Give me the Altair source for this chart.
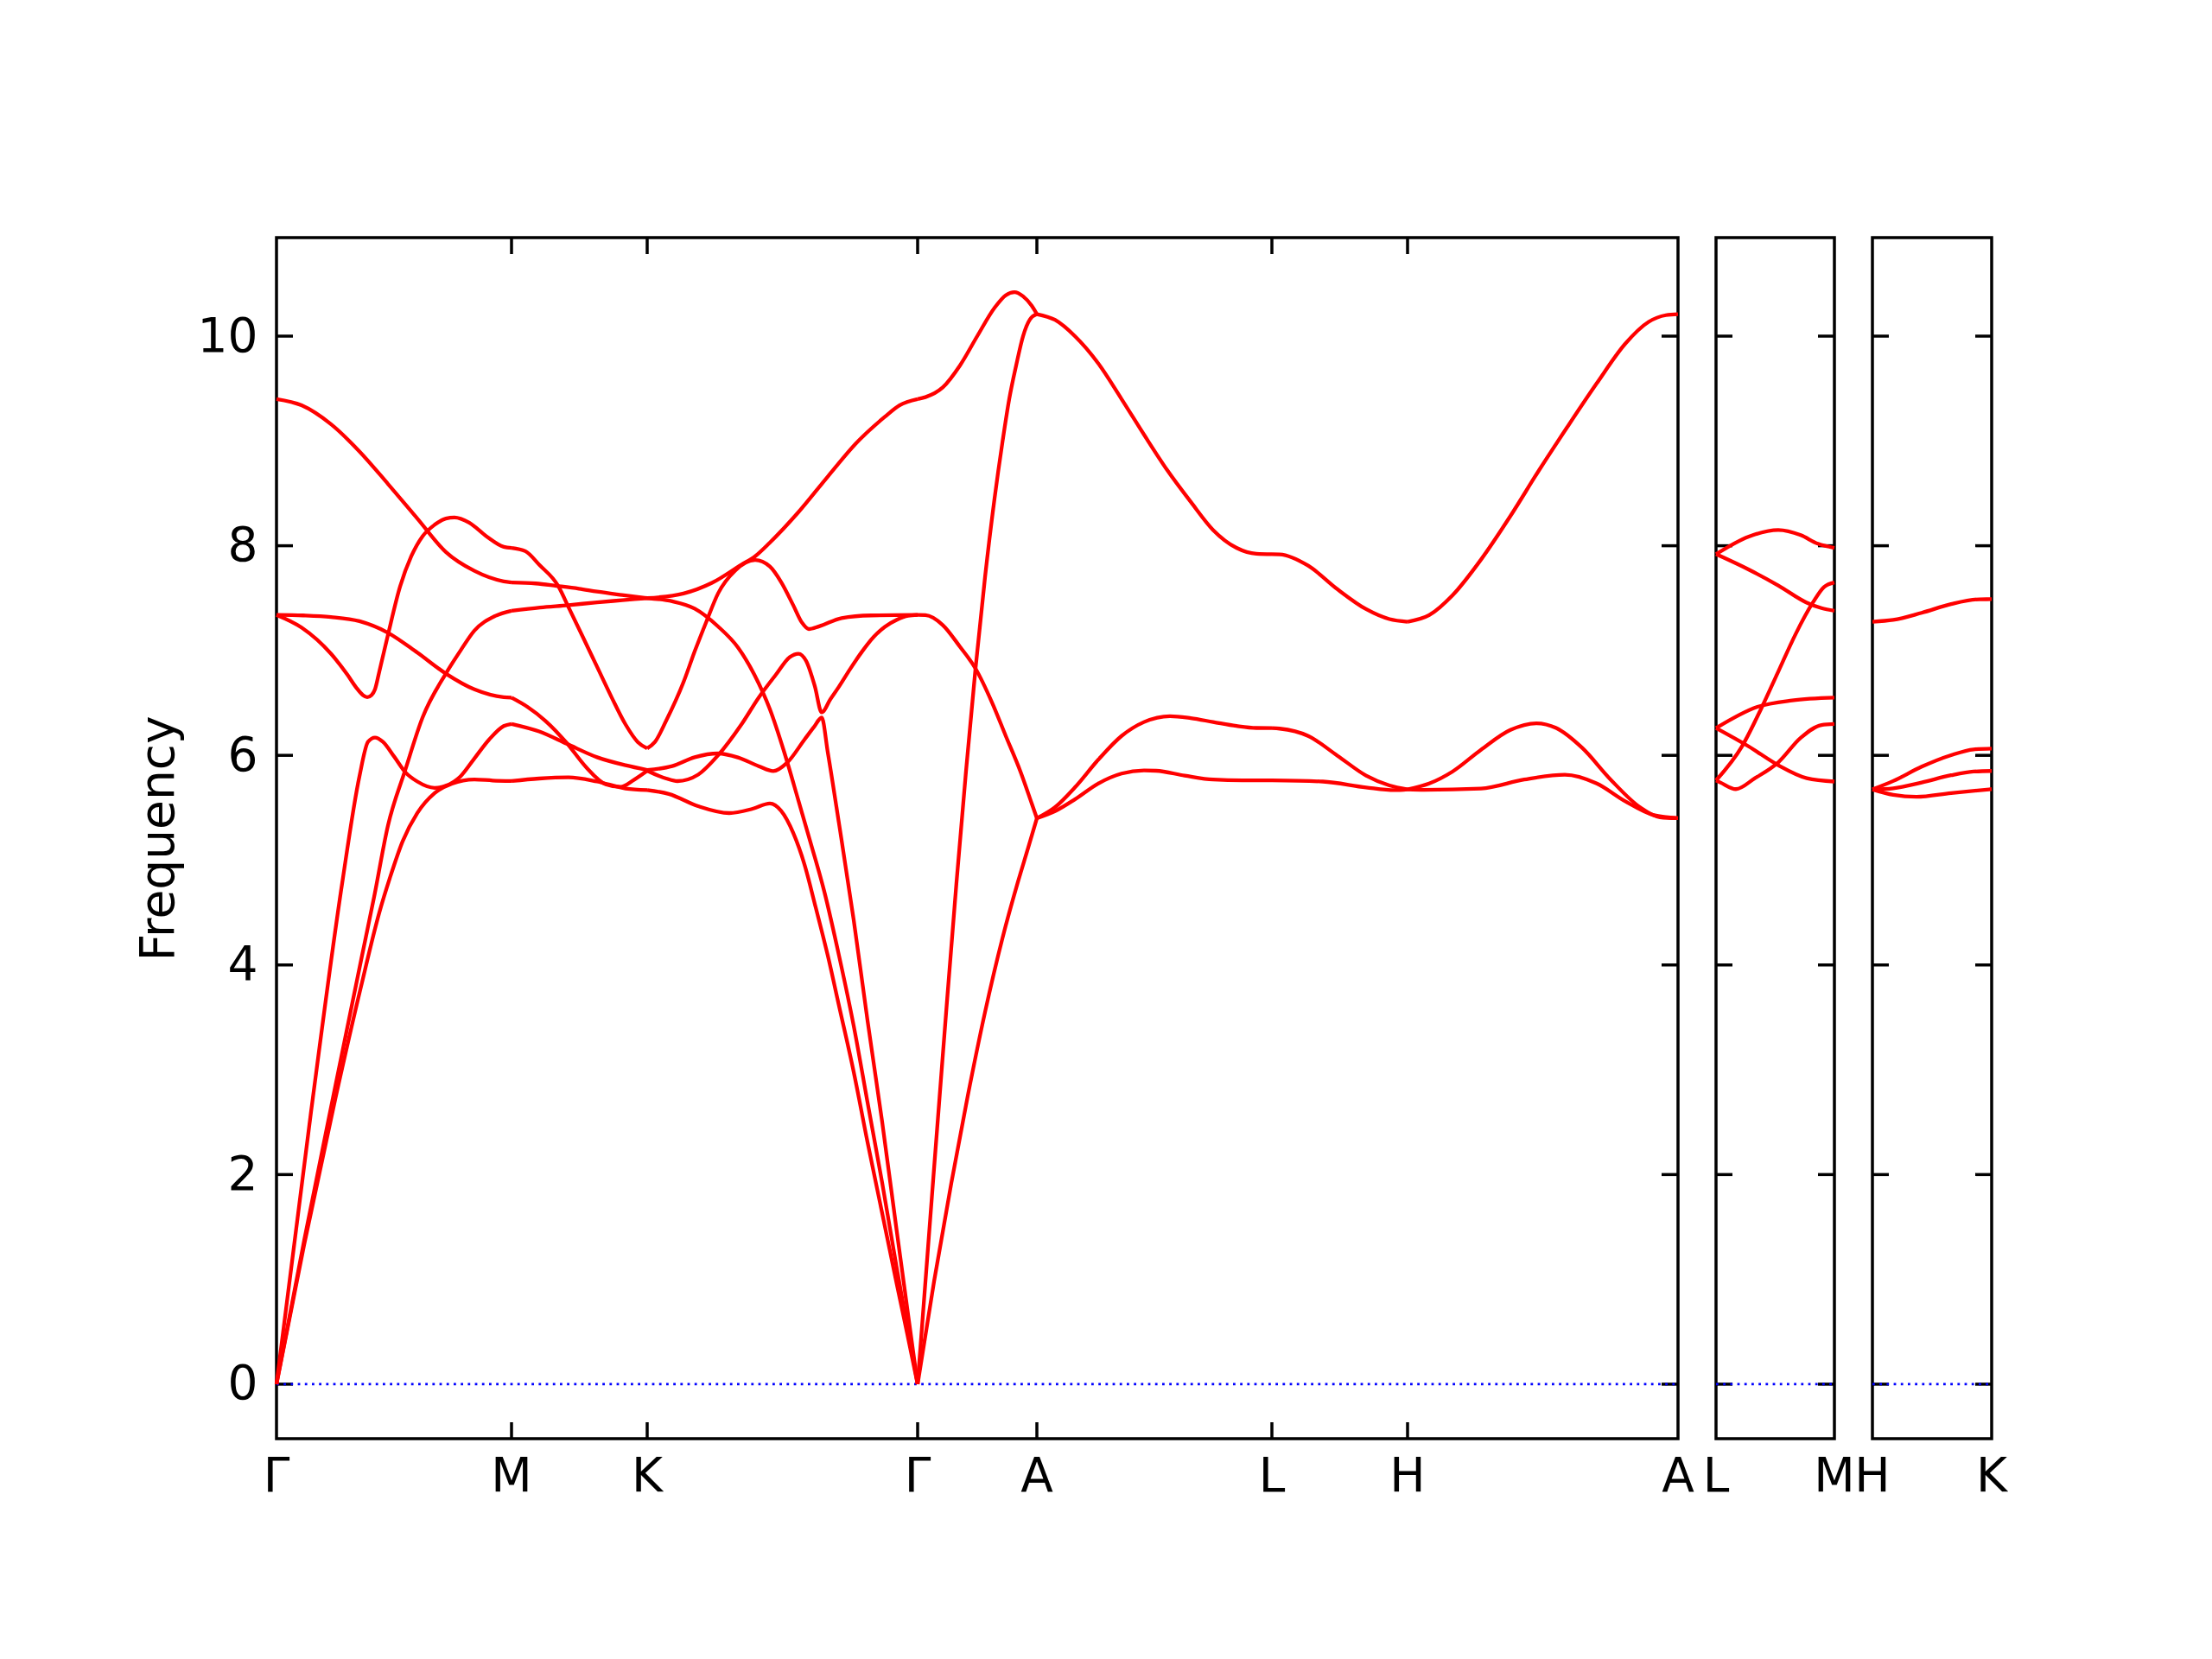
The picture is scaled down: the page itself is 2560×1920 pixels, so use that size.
import altair as alt
import pandas as pd

# ---------------- axes / k-path (distance along path, arbitrary units) ----------------
MAIN_TICKS = [0, 272, 429, 742, 880, 1152, 1309, 1622]
MAIN_LABELS = ["Γ", "M", "K", "Γ", "A", "L", "H", "A"]
LM_TICKS = [0, 137]
LM_LABELS = ["L", "M"]
HK_TICKS = [0, 138]
HK_LABELS = ["H", "K"]
FREQ_TICKS = [0, 2, 4, 6, 8, 10]
FREQ_RANGE = [-0.52, 10.94]

# ---------------- phonon branches, (k-distance, frequency) ----------------
GM = [
    [(0, 0), (32, 1.33), (68, 2.72), (98, 3.8), (119, 4.5), (132, 4.85), (146, 5.18), (163, 5.45),
     (183, 5.64), (203, 5.73), (229, 5.77), (250, 5.76), (272, 5.755)],
    [(0, 0), (40, 2.6), (76, 4.78), (96, 5.8), (106, 6.13), (114, 6.17), (123, 6.13), (136, 5.99),
     (149, 5.84), (163, 5.75), (183, 5.69), (196, 5.71), (213, 5.8), (229, 5.97), (246, 6.15),
     (263, 6.28), (272, 6.3)],
    [(0, 0), (32, 1.37), (68, 2.84), (98, 4.05), (113, 4.65), (129, 5.33), (149, 5.86), (169, 6.36),
     (196, 6.78), (213, 7.0), (229, 7.19), (253, 7.33), (272, 7.38)],
    [(0, 7.34), (31, 7.335), (63, 7.32), (96, 7.28), (129, 7.17), (163, 6.98), (196, 6.78),
     (229, 6.63), (263, 6.555), (272, 6.55)],
    [(0, 7.34), (29, 7.22), (63, 6.97), (82, 6.77), (92, 6.65), (100, 6.575), (105, 6.555),
     (110, 6.575), (114, 6.63), (119, 6.8), (129, 7.15), (143, 7.61), (156, 7.9), (169, 8.09),
     (183, 8.2), (196, 8.26), (206, 8.27), (223, 8.22), (243, 8.09), (263, 7.99), (272, 7.98)],
    [(0, 9.4), (29, 9.34), (63, 9.16), (96, 8.9), (129, 8.59), (163, 8.26), (196, 7.94),
     (229, 7.76), (263, 7.66), (272, 7.65)],
]

MK = [
    [(272, 7.65), (300, 7.64), (324, 7.617), (350, 7.59), (371, 7.562), (400, 7.53), (429, 7.5)],
    [(272, 7.38), (305, 7.41), (338, 7.433), (371, 7.46), (400, 7.48), (429, 7.5)],
    [(272, 7.98), (288, 7.948), (304, 7.819), (326, 7.617), (339, 7.396), (354, 7.139),
     (371, 6.845), (388, 6.551), (404, 6.294), (418, 6.128), (429, 6.066)],
    [(272, 6.55), (291, 6.459), (311, 6.331), (336, 6.117), (358, 5.89), (381, 5.724),
     (398, 5.699), (414, 5.768), (429, 5.853)],
    [(272, 6.3), (304, 6.228), (336, 6.11), (371, 5.982), (404, 5.905), (429, 5.86)],
    [(272, 5.755), (304, 5.779), (338, 5.79), (371, 5.75), (404, 5.684), (429, 5.669)],
]

KG = [
    [(429, 7.5), (471, 7.544), (504, 7.646), (538, 7.819), (554, 7.9), (571, 8.03), (604, 8.32),
     (638, 8.66), (671, 8.98), (704, 9.23), (721, 9.34), (742, 9.4)],
    [(429, 6.066), (438, 6.128), (451, 6.331), (471, 6.698), (484, 6.992), (498, 7.286),
     (511, 7.544), (531, 7.764), (554, 7.863), (571, 7.801), (584, 7.654), (598, 7.433),
     (608, 7.268), (616, 7.205), (628, 7.231), (654, 7.31), (688, 7.335), (742, 7.34)],
    [(429, 7.5), (458, 7.47), (484, 7.4), (511, 7.23), (534, 7.03), (553, 6.77), (571, 6.44),
     (588, 6.02), (604, 5.57), (618, 5.17), (634, 4.7), (651, 4.09), (668, 3.42), (684, 2.69),
     (701, 1.92), (718, 1.1), (730, 0.55), (742, 0)],
    [(429, 5.669), (454, 5.632), (488, 5.515), (524, 5.449), (551, 5.49), (571, 5.54),
     (584, 5.47), (598, 5.26), (611, 4.96), (624, 4.55), (638, 4.09), (651, 3.61), (668, 2.98),
     (684, 2.31), (701, 1.63), (718, 0.95), (730, 0.48), (742, 0)],
    [(429, 5.853), (451, 5.779), (464, 5.754), (488, 5.816), (511, 6.0), (538, 6.294),
     (558, 6.55), (578, 6.77), (594, 6.937), (604, 6.97), (613, 6.9), (623, 6.66), (631, 6.41),
     (641, 6.535), (651, 6.656), (664, 6.825), (678, 6.994), (691, 7.129), (704, 7.226),
     (718, 7.294), (731, 7.332), (742, 7.34)],
    [(429, 5.86), (458, 5.897), (484, 5.982), (511, 6.018), (534, 5.98), (558, 5.897),
     (575, 5.85), (591, 5.93), (611, 6.15), (622, 6.27), (631, 6.36), (638, 6.03), (651, 5.35),
     (668, 4.43), (684, 3.47), (701, 2.5), (718, 1.45), (731, 0.66), (742, 0)],
]

GA = [
    [(742, 9.4), (751, 9.418), (771, 9.51), (791, 9.72), (811, 10.0), (831, 10.27), (844, 10.39),
     (854, 10.42), (864, 10.38), (874, 10.29), (880, 10.21)],
    [(742, 0), (760, 1.95), (775, 3.55), (787, 4.79), (798, 5.85), (809, 6.83), (820, 7.7),
     (831, 8.45), (840, 8.98), (848, 9.4), (856, 9.72), (864, 10.0), (872, 10.16), (880, 10.21)],
    [(742, 7.34), (751, 7.338), (771, 7.244), (791, 7.036), (809, 6.828), (828, 6.506),
     (844, 6.185), (861, 5.845), (874, 5.542), (880, 5.4)],
    [(742, 0), (761, 0.98), (781, 1.92), (800, 2.75), (820, 3.55), (840, 4.25), (858, 4.79),
     (870, 5.12), (880, 5.4)],
]

AL = [
    [(880, 10.21), (901, 10.155), (924, 10.0), (951, 9.74), (978, 9.4), (1004, 9.06),
     (1031, 8.72), (1058, 8.42), (1084, 8.15), (1111, 7.98), (1134, 7.924), (1152, 7.92)],
    [(880, 5.4), (901, 5.505), (924, 5.694), (951, 5.958), (978, 6.185), (1004, 6.318),
     (1034, 6.374), (1058, 6.355), (1084, 6.318), (1111, 6.28), (1134, 6.261), (1152, 6.26)],
    [(880, 5.4), (901, 5.467), (924, 5.58), (951, 5.731), (978, 5.826), (1004, 5.856),
     (1018, 5.853), (1051, 5.807), (1084, 5.769), (1118, 5.762), (1152, 5.762)],
]

LH = [
    [(1152, 7.92), (1161, 7.918), (1194, 7.81), (1228, 7.584), (1261, 7.395), (1288, 7.3),
     (1309, 7.275)],
    [(1152, 6.26), (1161, 6.255), (1194, 6.185), (1228, 5.996), (1261, 5.807), (1288, 5.713),
     (1309, 5.675)],
    [(1152, 5.762), (1211, 5.75), (1261, 5.694), (1294, 5.668), (1309, 5.675)],
]

HA = [
    [(1309, 7.275), (1334, 7.338), (1361, 7.527), (1394, 7.868), (1428, 8.283), (1461, 8.718),
     (1494, 9.134), (1528, 9.55), (1561, 9.928), (1588, 10.136), (1608, 10.2), (1622, 10.21)],
    [(1309, 5.675), (1334, 5.731), (1361, 5.845), (1394, 6.053), (1428, 6.242), (1458, 6.306),
     (1481, 6.261), (1511, 6.072), (1544, 5.769), (1578, 5.505), (1601, 5.41), (1622, 5.4)],
    [(1309, 5.675), (1328, 5.671), (1394, 5.683), (1444, 5.769), (1491, 5.815), (1528, 5.731),
     (1561, 5.561), (1594, 5.429), (1622, 5.4)],
]

LM = [
    [(0, 7.92), (38, 8.088), (72, 8.151), (98, 8.101), (118, 8.019), (137, 7.98)],
    [(0, 7.92), (38, 7.772), (72, 7.621), (105, 7.457), (122, 7.405), (137, 7.38)],
    [(0, 5.76), (30, 6.085), (52, 6.441), (72, 6.798), (92, 7.155), (112, 7.457), (125, 7.607),
     (137, 7.65)],
    [(0, 5.76), (5, 5.741), (23, 5.678), (45, 5.782), (72, 5.933), (98, 6.167), (122, 6.29),
     (137, 6.3)],
    [(0, 6.26), (48, 6.463), (88, 6.524), (137, 6.55)],
    [(0, 6.26), (38, 6.084), (72, 5.906), (105, 5.782), (137, 5.75)],
]

HK = [
    [(0, 7.275), (24, 7.292), (57, 7.36), (91, 7.443), (124, 7.489), (138, 7.49)],
    [(0, 5.675), (24, 5.755), (57, 5.892), (91, 6.002), (117, 6.057), (138, 6.065)],
    [(0, 5.675), (24, 5.686), (57, 5.741), (91, 5.81), (117, 5.845), (138, 5.851)],
    [(0, 5.675), (24, 5.623), (51, 5.604), (91, 5.64), (138, 5.678)],
]

# ---------------- styling ----------------
PLOT_H = 1390
TICK_LEN = 19
FONT = "DejaVu Sans"
FS = 55
RED = "#ff0000"
BLUE = "#0000ff"
FRAME_W = 3.5


def curves_df(*segments):
    rows = []
    cid = 0
    for seg in segments:
        for curve in seg:
            for d, f in curve:
                rows.append({"d": d, "f": f, "curve": cid})
            cid += 1
    return pd.DataFrame(rows)


def panel(segments, ticks, labels, width, show_axis):
    xs = alt.Scale(domain=[ticks[0], ticks[-1]], nice=False, zero=False)
    ys = alt.Scale(domain=FREQ_RANGE, nice=False, zero=False)
    if show_axis:
        yaxis = alt.Axis(values=FREQ_TICKS, title="Frequency", domain=False, grid=False,
                         ticks=False, tickSize=0, labelPadding=22, labelFontSize=FS,
                         labelFont=FONT, labelColor="black", titleFontSize=FS, titleFont=FONT,
                         titleFontWeight="normal", titleColor="black", titlePadding=16)
    else:
        yaxis = None

    def X():
        return alt.X("d:Q", scale=xs, axis=None)

    def Y():
        return alt.Y("f:Q", scale=ys, axis=yaxis)

    ytick_df = pd.DataFrame({"f": FREQ_TICKS})
    yt_left = alt.Chart(ytick_df).mark_rule(color="black", strokeWidth=FRAME_W).encode(
        y=Y(), x=alt.value(0), x2=alt.value(TICK_LEN))
    yt_right = alt.Chart(ytick_df).mark_rule(color="black", strokeWidth=FRAME_W).encode(
        y=Y(), x=alt.value(width - TICK_LEN), x2=alt.value(width))
    layers = [yt_left, yt_right]

    inner = ticks[1:-1]
    if inner:
        xt_df = pd.DataFrame({"d": inner})
        layers.append(alt.Chart(xt_df).mark_rule(color="black", strokeWidth=FRAME_W).encode(
            x=X(), y=alt.value(0), y2=alt.value(TICK_LEN)))
        layers.append(alt.Chart(xt_df).mark_rule(color="black", strokeWidth=FRAME_W).encode(
            x=X(), y=alt.value(PLOT_H - TICK_LEN), y2=alt.value(PLOT_H)))

    zero = alt.Chart(pd.DataFrame({"f": [0]})).mark_rule(
        color=BLUE, strokeWidth=2.8, strokeDash=[2.8, 5.4]).encode(
        y=Y(), x=alt.value(0), x2=alt.value(width))
    layers.append(zero)

    bands = alt.Chart(curves_df(*segments)).mark_line(
        color=RED, strokeWidth=4.3, interpolate="monotone").encode(
        x=X(), y=Y(), detail="curve:N")
    layers.append(bands)

    lab_df = pd.DataFrame({"d": ticks, "label": labels})
    text = alt.Chart(lab_df).mark_text(
        fontSize=FS, font=FONT, color="black", baseline="alphabetic", align="center").encode(
        x=X(), y=alt.value(PLOT_H + 61), text="label:N")
    layers.append(text)

    return alt.layer(*layers).properties(width=width, height=PLOT_H)


main = panel([GM, MK, KG, GA, AL, LH, HA], MAIN_TICKS, MAIN_LABELS, 1622, True)
p2 = panel([LM], LM_TICKS, LM_LABELS, 137, False)
p3 = panel([HK], HK_TICKS, HK_LABELS, 138, False)

chart = alt.hconcat(main, p2, p3, spacing=44, bounds="flush").properties(
    padding={"left": 146, "top": 263, "right": 20, "bottom": 20},
    background="white",
).configure_view(stroke="black", strokeWidth=FRAME_W)

chart.save("out.html", embed_options={"renderer": "svg", "actions": False})
